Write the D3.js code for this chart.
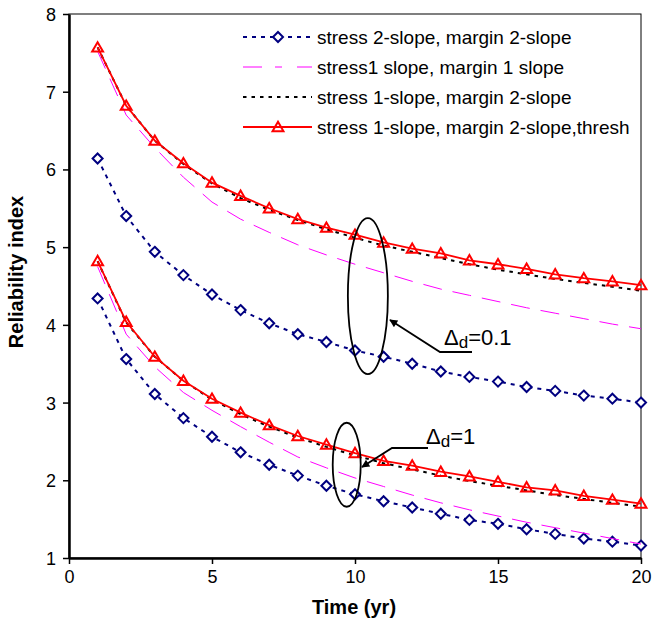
<!DOCTYPE html>
<html>
<head>
<meta charset="utf-8">
<script src="https://cdn.jsdelivr.net/npm/d3@7"></script>
<style>
  body { margin: 0; background: #fff; }
  text { font-family: "Liberation Sans", Arial, sans-serif; }
</style>
</head>
<body>
<div id="chart"></div>
<script>
// chart values
var years = [1, 2, 3, 4, 5, 6, 7, 8, 9, 10, 11, 12, 13, 14, 15, 16, 17, 18, 19, 20];

// delta_d = 0.1 group
var s2m2_a  = [6.14, 5.40, 4.94, 4.64, 4.39, 4.19, 4.02, 3.88, 3.78, 3.67, 3.59, 3.50, 3.40, 3.33, 3.27, 3.20, 3.15, 3.09, 3.05, 3.00];
var s1m1_a  = [7.52, 6.70, 6.28, 5.90, 5.58, 5.36, 5.19, 5.03, 4.90, 4.78, 4.67, 4.56, 4.46, 4.38, 4.30, 4.22, 4.15, 4.08, 4.01, 3.95];
var s1m2_a  = [7.57, 6.82, 6.37, 6.07, 5.82, 5.63, 5.48, 5.35, 5.23, 5.12, 5.02, 4.94, 4.86, 4.78, 4.71, 4.65, 4.59, 4.54, 4.49, 4.44];
var s1m2t_a = [7.57, 6.82, 6.37, 6.08, 5.83, 5.66, 5.50, 5.36, 5.25, 5.16, 5.06, 4.98, 4.92, 4.83, 4.78, 4.72, 4.65, 4.60, 4.56, 4.51];

// delta_d = 1 group
var s2m2_b  = [4.34, 3.56, 3.11, 2.80, 2.56, 2.36, 2.20, 2.06, 1.93, 1.82, 1.73, 1.65, 1.57, 1.49, 1.44, 1.37, 1.31, 1.25, 1.21, 1.16];
var s1m1_b  = [4.75, 3.88, 3.46, 3.13, 2.90, 2.69, 2.49, 2.30, 2.16, 2.03, 1.92, 1.81, 1.71, 1.62, 1.54, 1.46, 1.39, 1.32, 1.25, 1.18];
var s1m2_b  = [4.82, 4.03, 3.59, 3.28, 3.04, 2.85, 2.69, 2.55, 2.43, 2.32, 2.22, 2.14, 2.06, 1.99, 1.93, 1.87, 1.81, 1.76, 1.71, 1.66];
var s1m2t_b = [4.82, 4.04, 3.59, 3.28, 3.05, 2.87, 2.71, 2.57, 2.46, 2.35, 2.25, 2.19, 2.11, 2.05, 1.98, 1.91, 1.87, 1.80, 1.75, 1.70];

var legendLabels = ["stress 2-slope, margin 2-slope", "stress1 slope, margin 1 slope",
                    "stress 1-slope, margin 2-slope", "stress 1-slope, margin 2-slope,thresh"];
var xTicks = [0, 5, 10, 15, 20];
var yTicks = [1, 2, 3, 4, 5, 6, 7, 8];

var width = 653, height = 625;
var margin = {top: 14, right: 12, bottom: 67, left: 69};

var svg = d3.select("#chart").append("svg")
    .attr("width", width)
    .attr("height", height);

var x = d3.scaleLinear().domain([0, 20]).range([margin.left, width - margin.right]);
var y = d3.scaleLinear().domain([1, 8]).range([height - margin.bottom, margin.top]);

// series styles, in legend order
var styles = [
  {label: legendLabels[0], color: "#000080", width: 2,   dash: "4,5",  marker: "diamond"},
  {label: legendLabels[1], color: "#ff00ff", width: 1,   dash: "19,11", marker: null},
  {label: legendLabels[2], color: "#000000", width: 2,   dash: "3.5,5", marker: null},
  {label: legendLabels[3], color: "#ff0000", width: 1.8, dash: null,   marker: "triangle"}
];
var groups = [
  [s2m2_a, s1m1_a, s1m2_a, s1m2t_a],
  [s2m2_b, s1m1_b, s1m2_b, s1m2t_b]
];

// frame: thin top/right, thick left/bottom axes
svg.append("rect")
    .attr("x", x(0)).attr("y", y(8))
    .attr("width", x(20) - x(0)).attr("height", y(1) - y(8))
    .attr("fill", "none").attr("stroke", "#000").attr("stroke-width", 1);

var line = d3.line()
    .x(function(d) { return x(d[0]); })
    .y(function(d) { return y(d[1]); });

var diamond = d3.symbol().type(d3.symbolDiamond2 || d3.symbolDiamond).size(64);
var triangle = d3.symbol().type(d3.symbolTriangle2 || d3.symbolTriangle).size(85);

function drawMarker(g, kind, cx, cy, color) {
  if (kind === "diamond") {
    g.append("path").attr("d", diamond())
      .attr("transform", "translate(" + cx + "," + cy + ")")
      .attr("fill", "#fff").attr("stroke", color).attr("stroke-width", 2);
  } else if (kind === "triangle") {
    g.append("path").attr("d", triangle())
      .attr("transform", "translate(" + cx + "," + (cy + 1) + ")")
      .attr("fill", "none").attr("stroke", color).attr("stroke-width", 2);
  }
}

groups.forEach(function(series) {
  series.forEach(function(vals, i) {
    var st = styles[i];
    var pts = years.map(function(yr, j) { return [yr, vals[j]]; });
    svg.append("path")
      .datum(pts)
      .attr("d", line)
      .attr("fill", "none")
      .attr("stroke", st.color)
      .attr("stroke-width", st.width)
      .attr("stroke-dasharray", st.dash);
    if (st.marker) {
      var mg = svg.append("g");
      pts.forEach(function(p) { drawMarker(mg, st.marker, x(p[0]), y(p[1]), st.color); });
    }
  });
});

// axes
var yAxis = svg.append("g")
    .attr("transform", "translate(" + x(0) + ",0)")
    .call(d3.axisLeft(y).tickValues(yTicks).tickSize(6).tickSizeOuter(0).tickFormat(d3.format("d")));
var xAxis = svg.append("g")
    .attr("transform", "translate(0," + y(1) + ")")
    .call(d3.axisBottom(x).tickValues(xTicks).tickSize(6).tickSizeOuter(0).tickFormat(d3.format("d")));
[xAxis, yAxis].forEach(function(a) {
  a.select(".domain").attr("stroke-width", 2.5);
  a.selectAll(".tick line").attr("stroke-width", 1.5);
  a.selectAll(".tick text").attr("font-size", 18).attr("fill", "#000")
    .style("font-family", "'Liberation Sans', Arial, sans-serif");
});
yAxis.selectAll(".tick text").attr("x", -13).attr("dy", "0.36em");
xAxis.selectAll(".tick text").attr("y", 12);

svg.append("text")
    .attr("x", 354).attr("y", 614)
    .attr("text-anchor", "middle")
    .attr("font-size", 20).attr("font-weight", "bold")
    .text("Time (yr)");
svg.append("text")
    .attr("transform", "translate(23," + 272 + ") rotate(-90)")
    .attr("text-anchor", "middle")
    .attr("font-size", 20).attr("font-weight", "bold")
    .text("Reliability index");

// legend
var legend = svg.append("g");
styles.forEach(function(st, i) {
  var ly = 37 + i * 30;
  legend.append("line")
    .attr("x1", 243).attr("x2", 312).attr("y1", ly).attr("y2", ly)
    .attr("stroke", st.color).attr("stroke-width", st.width)
    .attr("stroke-dasharray", st.dash === "19,11" ? "19,13,7,15" : st.dash);
  if (st.marker) drawMarker(legend, st.marker, 278, ly, st.color);
  legend.append("text")
    .attr("x", 317).attr("y", ly).attr("dy", "0.35em")
    .attr("font-size", 19)
    .text(st.label);
});

// annotations: ellipses and arrows
svg.append("defs").append("marker")
    .attr("id", "arr").attr("viewBox", "0 0 10 10")
    .attr("refX", 9).attr("refY", 5)
    .attr("markerWidth", 10).attr("markerHeight", 8)
    .attr("markerUnits", "userSpaceOnUse")
    .attr("orient", "auto")
  .append("path").attr("d", "M0,0 L10,5 L0,10 z").attr("fill", "#000");

var ellipses = [
  {cx: 10.45, cy: 4.37, rx: 20, ry: 78},
  {cx: 9.71, cy: 2.2, rx: 14, ry: 42}
];
ellipses.forEach(function(e) {
  svg.append("ellipse")
    .attr("cx", x(e.cx)).attr("cy", y(e.cy))
    .attr("rx", e.rx).attr("ry", e.ry)
    .attr("fill", "none").attr("stroke", "#000").attr("stroke-width", 1.8);
});

// Δd=0.1
svg.append("path")
    .attr("d", "M472,352 L440,352 L390,320")
    .attr("fill", "none").attr("stroke", "#000").attr("stroke-width", 1.8)
    .attr("marker-end", "url(#arr)");
var t1 = svg.append("text").attr("x", 444).attr("y", 345).attr("font-size", 22);
t1.append("tspan").text("\u0394");
t1.append("tspan").attr("font-size", 17).attr("dy", 3).text("d");
t1.append("tspan").attr("dy", -3).text("=0.1");

// Δd=1
svg.append("path")
    .attr("d", "M428,448 L392,448 L362,467")
    .attr("fill", "none").attr("stroke", "#000").attr("stroke-width", 1.8)
    .attr("marker-end", "url(#arr)");
var t2 = svg.append("text").attr("x", 426).attr("y", 444).attr("font-size", 22);
t2.append("tspan").text("\u0394");
t2.append("tspan").attr("font-size", 17).attr("dy", 3).text("d");
t2.append("tspan").attr("dy", -3).text("=1");
</script>
</body>
</html>
